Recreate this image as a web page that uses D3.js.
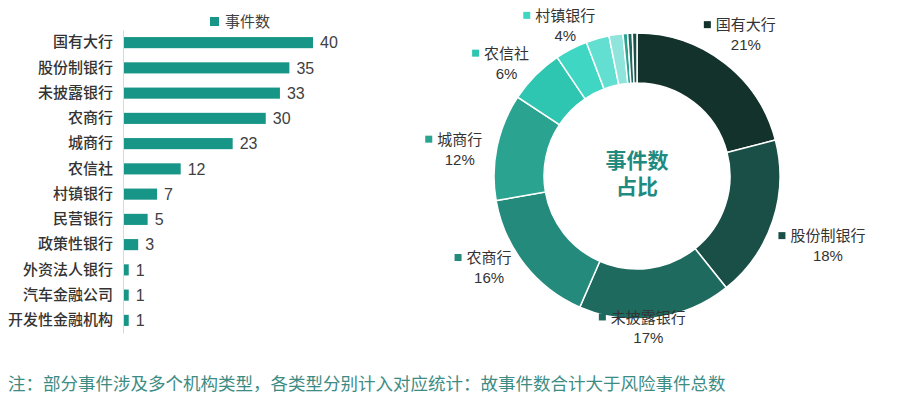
<!DOCTYPE html>
<html>
<head>
<meta charset="utf-8">
<script src="https://cdn.jsdelivr.net/npm/d3@7"></script>
<style>
  body { margin: 0; background: #fff; }
  svg { font-family: "Noto Sans CJK SC", "Noto Sans", sans-serif; }
  .num { font-family: "Liberation Sans", Arial, sans-serif; }
</style>
</head>
<body>
<div id="chart"></div>
<script>
// institution types and event counts
const categories = ['国有大行', '股份制银行', '未披露银行', '农商行', '城商行', '农信社',
  '村镇银行', '民营银行', '政策性银行', '外资法人银行', '汽车金融公司', '开发性金融机构'];
const counts = [40, 35, 33, 30, 23, 12, 7, 5, 3, 1, 1, 1];
const legendLabel = '事件数';
const centerLines = ['事件数', '占比'];
const note = '注：部分事件涉及多个机构类型，各类型分别计入对应统计：故事件数合计大于风险事件总数';
// slices that carry a label in the donut
const labelled = ['国有大行', '股份制银行', '未披露银行', '农商行', '城商行', '农信社', '村镇银行'];

const sliceColors = ['#12322b', '#1a4f47', '#1f6a5e', '#248a7b', '#2aa391', '#2ec5b1',
  '#40d6c4', '#62dfd1', '#8fe5dc', '#2aa391', '#1f6a5e', '#1a4f47'];
const barColor = '#179586';

const width = 900, height = 400;
const svg = d3.select('#chart').append('svg')
  .attr('width', width)
  .attr('height', height);

// ---- Bar chart ----
const x = d3.scaleLinear()
  .domain([0, 40])
  .range([123, 312]);

const y = d3.scaleBand()
  .domain(categories)
  .range([30, 333])
  .paddingInner(0.56)
  .paddingOuter(0.28);

const yAxis = svg.append('g')
  .attr('transform', `translate(${x(0)},0)`)
  .call(d3.axisLeft(y).tickSize(0).tickPadding(10));
yAxis.select('.domain').attr('stroke', '#d9d9d9');
yAxis.selectAll('text')
  .style('font-size', '15px')
  .style('font-weight', '500')
  .style('font-family', '"Noto Sans CJK SC", sans-serif')
  .attr('fill', '#333');

svg.selectAll('.bar')
  .data(counts)
  .enter().append('rect')
  .attr('class', 'bar')
  .attr('x', x(0) + 1)
  .attr('y', (d, i) => y(categories[i]))
  .attr('width', d => x(d) - x(0))
  .attr('height', y.bandwidth())
  .attr('fill', barColor);

svg.selectAll('.value')
  .data(counts)
  .enter().append('text')
  .attr('class', 'value num')
  .attr('x', d => x(d) + 8)
  .attr('y', (d, i) => y(categories[i]) + y.bandwidth() / 2)
  .attr('dy', '0.36em')
  .style('font-size', '16px')
  .attr('fill', '#404040')
  .text(d => d);

// legend
svg.append('rect')
  .attr('x', 210).attr('y', 17)
  .attr('width', 9).attr('height', 9)
  .attr('fill', barColor);
svg.append('text')
  .attr('x', 225).attr('y', 22)
  .attr('dy', '0.35em')
  .style('font-size', '15px')
  .attr('fill', '#404040')
  .text(legendLabel);

// ---- Donut ----
const cx = 637, cy = 176;
const total = d3.sum(counts);
const pie = d3.pie().sort(null).value(d => d)(counts);
const arc = d3.arc().innerRadius(93).outerRadius(143);
const labelArc = d3.arc().innerRadius(178).outerRadius(178);

const donut = svg.append('g').attr('transform', `translate(${cx},${cy})`);

donut.selectAll('path')
  .data(pie)
  .enter().append('path')
  .attr('d', arc)
  .attr('fill', (d, i) => sliceColors[i])
  .attr('stroke', '#fff')
  .attr('stroke-width', 1.5);

// small nudges where the original layout pushes labels off the radial spot
const nudge = {
  '股份制银行': [22, 14], '未披露银行': [-12, -25], '农商行': [-8, -18],
  '城商行': [-3, 10], '农信社': [-4, 13], '村镇银行': [10, 8]
};

const labels = donut.selectAll('.slice-label')
  .data(pie.filter((d, i) => labelled.includes(categories[i])))
  .enter().append('g')
  .attr('class', 'slice-label')
  .attr('transform', d => {
    const [lx, ly] = labelArc.centroid(d);
    const n = nudge[categories[d.index]] || [0, 0];
    return `translate(${lx + n[0]},${ly + n[1]})`;
  });

labels.append('text')
  .attr('text-anchor', 'middle')
  .attr('y', -10)
  .attr('dy', '0.35em')
  .style('font-size', '15px')
  .attr('fill', '#333')
  .text(d => categories[d.index]);

labels.append('text')
  .attr('class', 'num')
  .attr('text-anchor', 'middle')
  .attr('y', 10)
  .attr('dy', '0.35em')
  .style('font-size', '15px')
  .attr('fill', '#333')
  .text(d => Math.round(d.value / total * 100) + '%');

labels.append('rect')
  .attr('x', d => -categories[d.index].length * 7.5 - 12)
  .attr('y', -14)
  .attr('width', 7).attr('height', 7)
  .attr('fill', d => sliceColors[d.index]);

// centre title, two lines in one text element
const centerText = donut.append('text')
  .attr('text-anchor', 'middle')
  .attr('y', -15)
  .style('font-size', '21px')
  .style('font-weight', 'bold')
  .attr('fill', '#1f8a80');
centerText.selectAll('tspan')
  .data(centerLines)
  .enter().append('tspan')
  .attr('x', 0)
  .attr('dy', (d, i) => i === 0 ? '0.35em' : 26)
  .text(d => d);

// ---- Note ----
svg.append('text')
  .attr('x', 8).attr('y', 384)
  .attr('dy', '0.35em')
  .style('font-size', '17.5px')
  .attr('fill', '#3d8c84')
  .text(note);
</script>
</body>
</html>
